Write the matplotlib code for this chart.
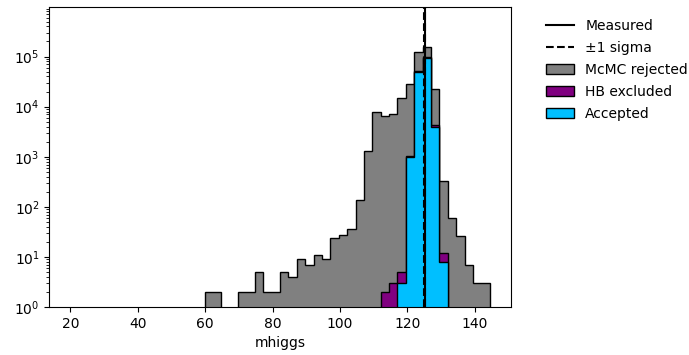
import numpy as np
import matplotlib
matplotlib.use("Agg")
import matplotlib.pyplot as plt
from matplotlib.lines import Line2D
from matplotlib.patches import Patch

# Histogram binning of the Higgs mass samples
bin_lo, bin_hi, n_bins = 20.0, 144.4, 50
first_bin = 16  # bins below this index are empty

# Counts per bin, starting at first_bin
mcmc_rejected = [2, 2, 0, 0, 2, 2, 5, 2, 2, 5, 4, 9, 7, 11, 9, 24, 27, 36, 136,
                 1318, 7940, 6510, 7040, 15100, 28400, 122000, 158000, 22300,
                 331, 60, 26, 7, 3, 3]
hb_excluded = [0] * 21 + [2, 3, 5, 1050, 52000, 100000, 4400, 12] + [0] * 5
accepted = [0] * 23 + [3, 1000, 50000, 93000, 3900, 8] + [0] * 5

mh_measured = 125.09
mh_sigma = 0.24

edges = np.linspace(bin_lo, bin_hi, n_bins + 1)
centers = 0.5 * (edges[:-1] + edges[1:])


def full_counts(vals):
    c = np.zeros(n_bins)
    c[first_bin:first_bin + len(vals)] = vals
    return c


fig = plt.figure(figsize=(6.89, 3.55), dpi=100)
ax = fig.add_axes([0.0716, 0.135, 0.6696, 0.845])

series = [
    (mcmc_rejected, "gray", "McMC rejected"),
    (hb_excluded, "purple", "HB excluded"),
    (accepted, "deepskyblue", "Accepted"),
]
for vals, color, label in series:
    ax.hist(centers, bins=edges, weights=full_counts(vals), histtype="stepfilled",
            facecolor=color, edgecolor="black", linewidth=1.0, log=True)

ax.axvline(mh_measured, color="black", linestyle="-", linewidth=1.5)
ax.axvline(mh_measured - mh_sigma, color="black", linestyle="--", linewidth=1.5)
ax.axvline(mh_measured + mh_sigma, color="black", linestyle="--", linewidth=1.5)

ax.set_yscale("log")
ax.set_ylim(1, 9.7e5)
ax.set_xlim(13.78, 150.62)
ax.set_xlabel("mhiggs")

handles = [
    Line2D([], [], color="black", linestyle="-", linewidth=1.5),
    Line2D([], [], color="black", linestyle="--", linewidth=1.5),
    Patch(facecolor="gray", edgecolor="black"),
    Patch(facecolor="purple", edgecolor="black"),
    Patch(facecolor="deepskyblue", edgecolor="black"),
]
labels = ["Measured", "\u00b11 sigma", "McMC rejected", "HB excluded", "Accepted"]
fig.legend(handles, labels, loc="upper left", bbox_to_anchor=(0.775, 0.982),
           frameon=False, fontsize=10, labelspacing=0.58)

fig.savefig("out.png", dpi=100)
